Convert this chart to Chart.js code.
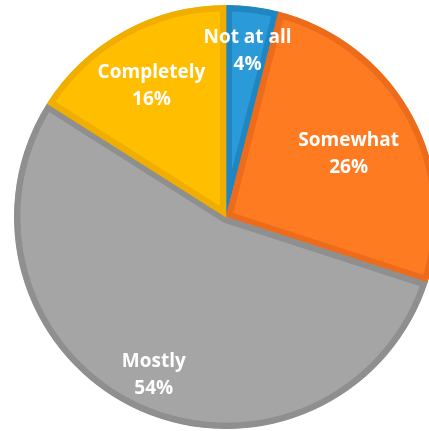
<!DOCTYPE html>
<html>
<head>
<meta charset="utf-8">
<script src="https://cdn.jsdelivr.net/npm/chart.js@4.4.1/dist/chart.umd.min.js"></script>
<style>
  html, body { margin: 0; padding: 0; background: #ffffff; overflow: hidden; width: 429px; height: 431px; }
  #wrap { position: absolute; left: 0; top: 5px; width: 452px; height: 424px; }
</style>
</head>
<body>
<div id="wrap"><canvas id="chart"></canvas></div>
<script>
// Survey answers, in clockwise order from 12 o'clock
const categories = ['Not at all', 'Somewhat', 'Mostly', 'Completely'];
const shares = [4, 26, 54, 16];

const fillColors   = ['#2A9AD8', '#FF7B22', '#A5A5A5', '#FFBE00'];
const borderColors = ['#1F86C2', '#EC6C1C', '#8F8F8F', '#F0AE00'];
// how far out (as a fraction of the radius) each label sits
const labelRadius  = [0.81, 0.66, 0.80, 0.73];

const sliceLabels = {
  id: 'sliceLabels',
  afterDatasetsDraw(chart) {
    const ctx = chart.ctx;
    const meta = chart.getDatasetMeta(0);
    ctx.save();
    ctx.fillStyle = '#ffffff';
    ctx.font = 'bold 19px "Open Sans", sans-serif';
    ctx.textAlign = 'center';
    ctx.textBaseline = 'middle';
    meta.data.forEach((arc, i) => {
      const p = arc.getProps(['x', 'y', 'startAngle', 'endAngle', 'outerRadius'], true);
      const mid = (p.startAngle + p.endAngle) / 2;
      const r = p.outerRadius * labelRadius[i];
      const x = p.x + Math.cos(mid) * r;
      const y = p.y + Math.sin(mid) * r;
      ctx.fillText(categories[i], x, y - 9);
      ctx.fillText(shares[i] + '%', x, y + 18);
    });
    ctx.restore();
  }
};

new Chart(document.getElementById('chart'), {
  type: 'pie',
  data: {
    labels: categories,
    datasets: [{
      data: shares,
      backgroundColor: fillColors,
      borderColor: borderColors,
      borderWidth: 6,
      borderAlign: 'inner',
      borderJoinStyle: 'miter'
    }]
  },
  options: {
    responsive: true,
    maintainAspectRatio: false,
    animation: false,
    layout: { padding: 0 },
    plugins: {
      legend: { display: false },
      tooltip: { enabled: false },
      title: { display: false }
    }
  },
  plugins: [sliceLabels]
});
</script>
</body>
</html>
